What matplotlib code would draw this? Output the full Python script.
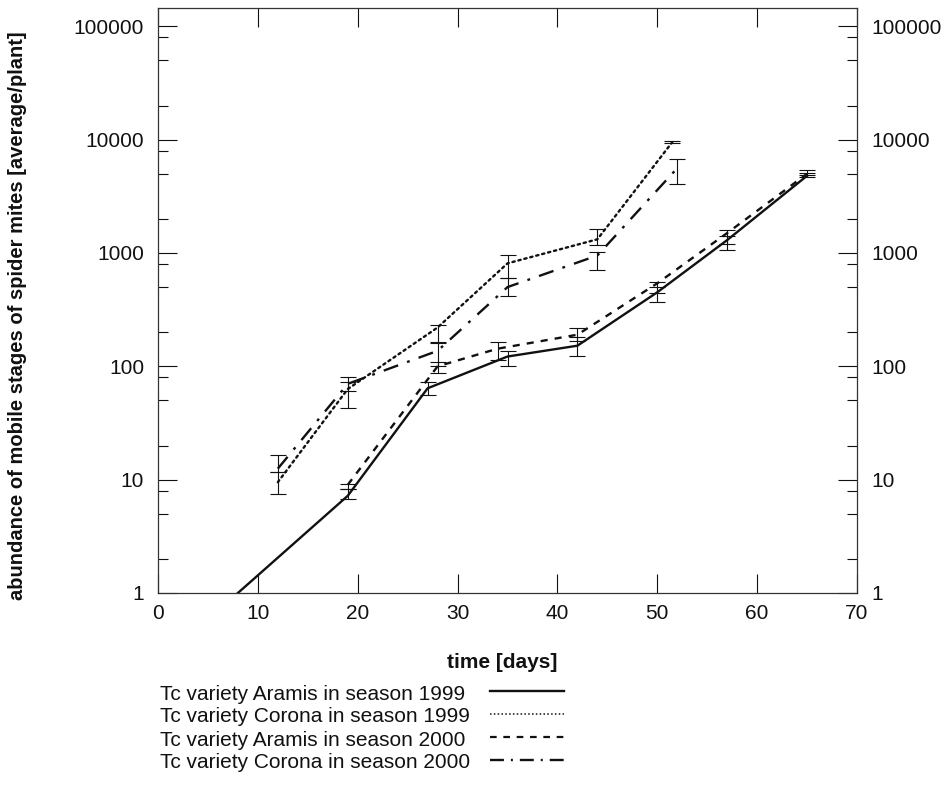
import numpy as np
import matplotlib
matplotlib.use("Agg")
import matplotlib.pyplot as plt
from matplotlib.ticker import FixedLocator, LogLocator, FuncFormatter, NullFormatter
from matplotlib.lines import Line2D

plt.rcParams['font.family'] = ['Liberation Sans', 'DejaVu Sans']

# ---------------- data ----------------
labels = ["Tc variety Aramis in season 1999",
          "Tc variety Corona in season 1999",
          "Tc variety Aramis in season 2000",
          "Tc variety Corona in season 2000"]

aramis99_days = [8, 19, 27, 35, 42, 50, 57, 65]
aramis99_vals = [1.0, 7.2, 64, 122, 152, 450, 1300, 4800]
aramis99_lo = [np.nan, 6.7, 56, 100, 124, 370, 1070, 4650]
aramis99_hi = [np.nan, 8.2, 72, 137, 180, 500, 1410, 5100]

corona99_days = [12, 19, 28, 35, 44, 51.5]
corona99_vals = [9.5, 63, 220, 810, 1320, 9500]
corona99_lo = [7.4, 43, 160, 600, 1180, 9300]
corona99_hi = [11.6, 73, 230, 950, 1620, 9800]

aramis00_days = [19, 28, 34, 42, 50, 57, 65]
aramis00_vals = [9.0, 100, 143, 190, 540, 1500, 5000]
aramis00_lo = [8.2, 88, 114, 168, 445, 1200, 4900]
aramis00_hi = [9.2, 110, 165, 218, 560, 1600, 5400]

corona00_days = [12, 19, 28, 35, 44, 52]
corona00_vals = [12.5, 70, 137, 500, 950, 5600]
corona00_lo = [11.6, 60, 100, 420, 710, 4050]
corona00_hi = [16.4, 81, 165, 600, 1020, 6800]

x_ticks = [0, 10, 20, 30, 40, 50, 60, 70]
y_ticks = [1, 10, 100, 1000, 10000, 100000]

# ---------------- styles ----------------
ink = '#111111'
styles = [
    dict(linestyle='-', lw=1.7),
    dict(linestyle=(0, (1, 1.6)), lw=1.7, dash_capstyle='round'),
    dict(linestyle=(0, (3, 3)), lw=1.7),
    dict(linestyle=(0, (6.5, 4, 1.2, 4)), lw=1.7),
]
legend_styles = [
    dict(linestyle='-', lw=1.7),
    dict(linestyle=(0, (1, 1.5)), lw=1.1),
    dict(linestyle=(0, (3.0, 3.0)), lw=1.6),
    dict(linestyle=(0, (5.9, 2.95, 0.85, 2.95)), lw=1.7),
]
series = [
    (aramis99_days, aramis99_vals, aramis99_lo, aramis99_hi),
    (corona99_days, corona99_vals, corona99_lo, corona99_hi),
    (aramis00_days, aramis00_vals, aramis00_lo, aramis00_hi),
    (corona00_days, corona00_vals, corona00_lo, corona00_hi),
]

W, H = 948, 786
fig = plt.figure(figsize=(W / 100, H / 100), dpi=100)
L, R, T, B = 158, 857, 8, 593
ax = fig.add_axes([L / W, 1 - B / H, (R - L) / W, (B - T) / H])

for (d, v, lo, hi), st in zip(series, styles):
    d = np.array(d, float); v = np.array(v, float)
    lo = np.array(lo, float); hi = np.array(hi, float)
    ax.plot(d, v, color=ink, **st)
    m = ~np.isnan(lo)
    ax.errorbar(d[m], v[m], yerr=[v[m] - lo[m], hi[m] - v[m]], fmt='none',
                ecolor=ink, elinewidth=0.8, capsize=5.5, capthick=0.8)

ax.set_yscale('log')
ax.set_xlim(0, 70)
ax.set_ylim(1, 1.45e5)
ax.xaxis.set_major_locator(FixedLocator(x_ticks))
ax.yaxis.set_major_locator(FixedLocator(y_ticks))
ax.yaxis.set_minor_locator(LogLocator(base=10, subs=(2, 5, 8)))
ax.yaxis.set_major_formatter(FuncFormatter(lambda v, p: f"{int(round(v))}"))
ax.yaxis.set_minor_formatter(NullFormatter())
ax.tick_params(which='both', direction='in', top=True, right=True,
               labelright=True, colors=ink, labelsize=15)
ax.tick_params(which='major', length=14, width=0.8)
ax.tick_params(which='minor', length=7, width=0.8)
ax.tick_params(axis='y', which='major', pad=10)
ax.tick_params(axis='x', which='major', pad=8)
for s in ax.spines.values():
    s.set_linewidth(0.9)
    s.set_color('#333333')

fig.text(18 / W, 1 - 316 / H,
         "abundance of mobile stages of spider mites [average/plant]",
         rotation=90, ha='center', va='center', fontsize=14.5,
         fontweight='bold', color=ink)
fig.text(502 / W, 1 - 662 / H, "time [days]", ha='center', va='center',
         fontsize=15, fontweight='bold', color=ink)

# legend (text left, line sample right)
rows = [694, 717, 740, 763]
for lab, st, y in zip(labels, legend_styles, rows):
    fig.text(160 / W, 1 - y / H, lab, ha='left', va='center', fontsize=15, color=ink)
    fig.add_artist(Line2D([490 / W, 564 / W], [1 - (y - 3) / H] * 2,
                          transform=fig.transFigure, color=ink, **st))

fig.savefig("out.png", dpi=100)
